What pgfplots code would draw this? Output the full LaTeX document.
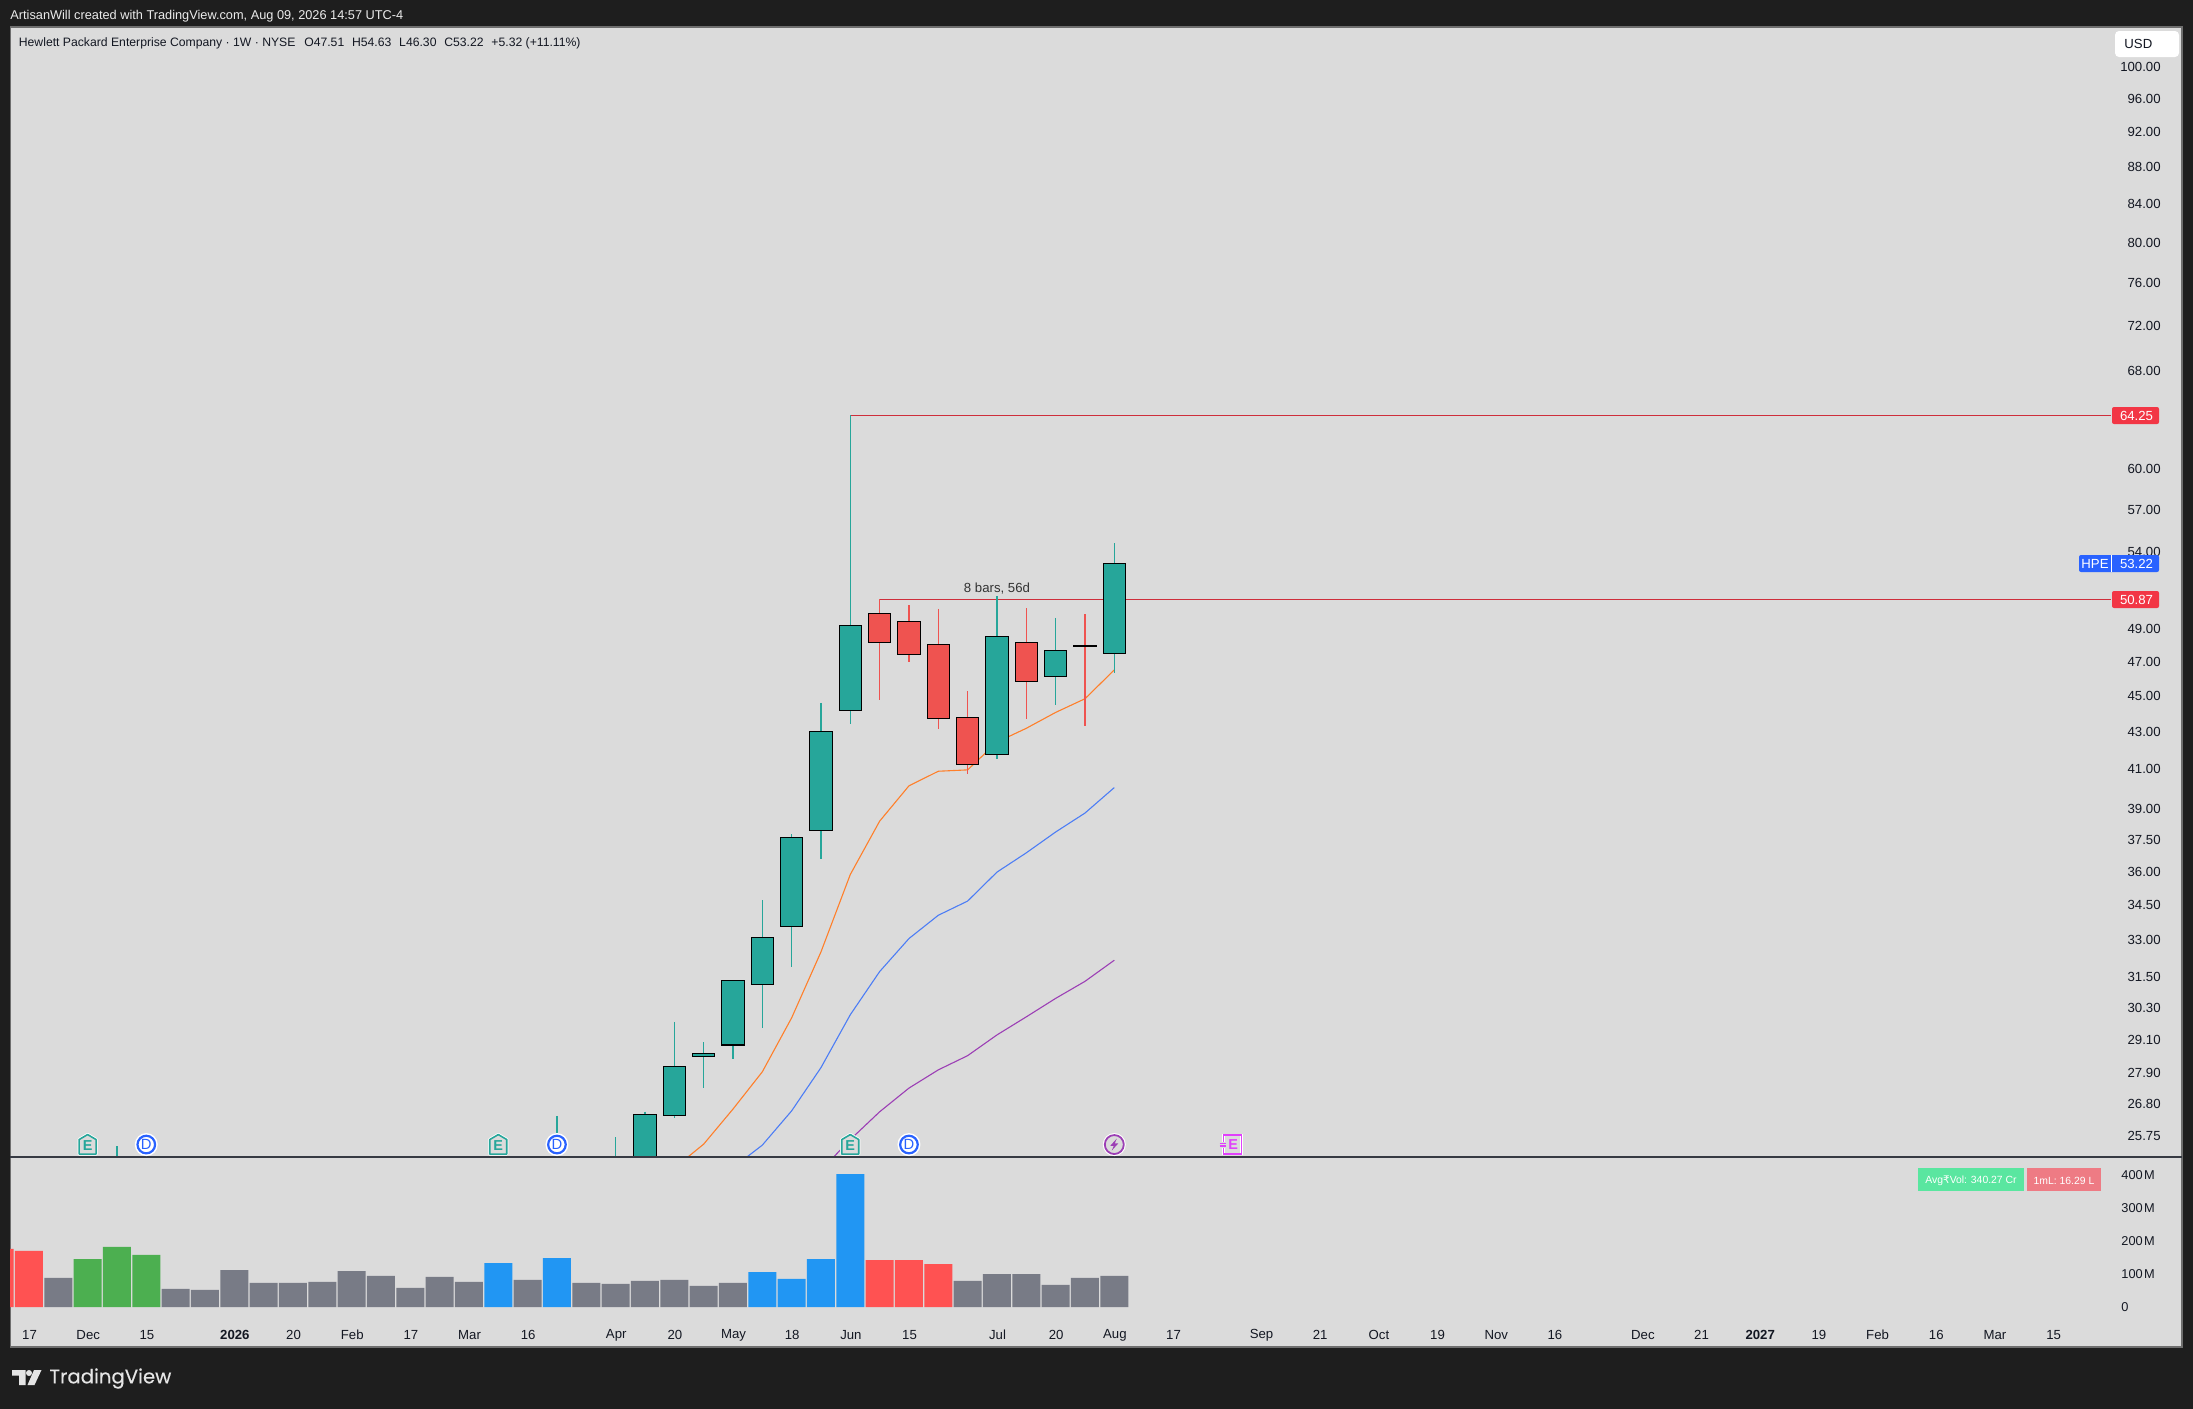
\documentclass[border=0pt]{standalone}
\usepackage{fontspec}
\usepackage{pgfplots}
\pgfplotsset{compat=1.18}
\setmainfont{Liberation Sans}
\newfontfamily\dejavu{DejaVu Sans}
\newfontfamily\tvfont[FakeBold=0.3]{Poppins}
\definecolor{bgdark}{HTML}{1E1E1E}
\definecolor{pane}{HTML}{DBDBDB}
\definecolor{up}{HTML}{26A69A}
\definecolor{dn}{HTML}{EF5350}
\definecolor{vred}{HTML}{FF5252}
\definecolor{vgreen}{HTML}{4CAF50}
\definecolor{vblue}{HTML}{2196F3}
\definecolor{vgray}{HTML}{787B86}
\definecolor{lab}{HTML}{F23645}
\definecolor{hpe}{HTML}{2962FF}
\definecolor{ma1}{HTML}{FF7F2A}
\definecolor{ma2}{HTML}{4C7DF5}
\definecolor{ma3}{HTML}{9C3FB5}
\definecolor{tick}{HTML}{131722}
\definecolor{pinkE}{HTML}{E040FB}
\definecolor{badgeA}{HTML}{5AE6A0}
\definecolor{badgeB}{HTML}{EE7B84}
\definecolor{frame}{HTML}{6E6E6E}
\newcommand\tfont{\fontsize{6.6}{8}\selectfont}
\newcommand\candle[6]{%
  \pgfmathsetmacro\xa{#2-0.38}\pgfmathsetmacro\xb{#2+0.38}%
  \addplot[#1, line width=0.55pt, forget plot] coordinates {(#2,#4)(#2,#5)};
  \addplot[draw=black, line width=0.55pt, fill=#1, line cap=rect, forget plot] coordinates {(\xa,#3)(\xb,#3)(\xb,#6)(\xa,#6)(\xa,#3)};
}
\begin{document}
\begin{tikzpicture}
\useasboundingbox (0,0) rectangle (1096.5pt,-704pt);
\fill[bgdark] (-3pt,3pt) rectangle (1100pt,-708pt);
\begin{scope}[x=0.5pt,y=-0.5pt]
\fill[pane] (10.3,27) rectangle (2182,1347);
\draw[color=frame, line width=0.55pt] (10.3,27) rectangle (2182,1347);
\end{scope}

% price pane
\begin{axis}[
  at={(4.5pt,-578.5pt)}, anchor=south west, scale only axis,
  width=1086.5pt, height=565pt,
  xmin=-28.68, xmax=45.4, ymode=log, ymin=25.07, ymax=105.16,
  axis line style={draw=none}, major tick length=0pt, minor tick length=0pt,
  xtick=\empty, log ticks with fixed point,
  ytick={100,96,92,88,84,80,76,72,68,60,57,54,49,47,45,43,41,39,37.5,36,34.5,33,31.5,30.3,29.1,27.9,26.8,25.75},
  yticklabels={100.00,96.00,92.00,88.00,84.00,80.00,76.00,72.00,68.00,60.00,57.00,54.00,49.00,47.00,45.00,43.00,41.00,39.00,37.50,36.00,34.50,33.00,31.50,30.30,29.10,27.90,26.80,25.75},
  yticklabel pos=right,
  yticklabel style={anchor=east, xshift=-10.5pt, inner sep=0pt, font=\tfont, text=tick},
]
% horizontal levels
\addplot[lab!85!black, line width=0.5pt, forget plot] coordinates {(0,64.25)(42.98,64.25)};
\addplot[lab!85!black, line width=0.5pt, forget plot] coordinates {(1,50.87)(42.98,50.87)};
% moving averages
\addplot[ma1, line width=0.55pt, forget plot] coordinates {(-6,24.72)(-5,25.48)(-4,26.64)(-3,27.93)(-2,29.91)(-1,32.52)(0,35.88)(1,38.39)(2,40.15)(3,40.90)(4,40.97)(5,42.44)(6,43.19)(7,44.07)(8,44.84)(9,46.51)};
\addplot[ma2, line width=0.55pt, forget plot] coordinates {(-4,24.73)(-3,25.45)(-2,26.58)(-1,28.08)(0,30.03)(1,31.72)(2,33.08)(3,34.07)(4,34.69)(5,35.99)(6,36.88)(7,37.87)(8,38.79)(9,40.06)};
\addplot[ma3, line width=0.55pt, forget plot] coordinates {(-1,24.65)(0,25.63)(1,26.55)(2,27.36)(3,28.00)(4,28.51)(5,29.27)(6,29.95)(7,30.66)(8,31.33)(9,32.18)};
% candles: colour, index, open, high, low, close
\candle{up}{-25}{23.0}{25.42}{22.5}{24.0}
\candle{up}{-10}{23.0}{26.41}{22.5}{24.0}
\candle{up}{-8}{23.0}{25.70}{22.5}{24.0}
\candle{up}{-7}{24.6}{26.56}{24.3}{26.45}
\candle{up}{-6}{26.42}{29.76}{26.35}{28.13}
\candle{up}{-5}{28.47}{29.00}{27.36}{28.59}
\candle{up}{-4}{28.90}{31.36}{28.38}{31.36}
\candle{up}{-3}{31.19}{34.73}{29.53}{33.13}
\candle{up}{-2}{33.58}{37.77}{31.91}{37.61}
\candle{up}{-1}{37.93}{44.60}{36.59}{43.03}
\candle{up}{0}{44.16}{64.25}{43.41}{49.22}
\candle{dn}{1}{49.97}{50.87}{44.77}{48.14}
\candle{dn}{2}{49.47}{50.50}{46.98}{47.42}
\candle{dn}{3}{48.05}{50.25}{43.14}{43.72}
\candle{dn}{4}{43.80}{45.28}{40.78}{41.26}
\candle{up}{5}{41.79}{51.08}{41.54}{48.54}
\candle{dn}{6}{48.17}{50.31}{43.70}{45.82}
\candle{up}{7}{46.11}{49.68}{44.48}{47.68}
\candle{dn}{8}{47.96}{49.93}{43.32}{47.91}
\candle{up}{9}{47.51}{54.63}{46.30}{53.22}
\node[font=\tfont, text=black!80] at (axis cs:5,51.55) {8 bars, 56d};
\coordinate (eA) at (axis cs:-26,25.47);
\coordinate (dA) at (axis cs:-24,25.47);
\coordinate (eB) at (axis cs:-12,25.47);
\coordinate (dB) at (axis cs:-10,25.47);
\coordinate (eC) at (axis cs:0,25.47);
\coordinate (dC) at (axis cs:2,25.47);
\coordinate (zz) at (axis cs:9,25.47);
\coordinate (eD) at (axis cs:13,25.47);
\end{axis}

% volume pane
\begin{axis}[
  at={(4.5pt,-673.5pt)}, anchor=south west, scale only axis,
  width=1086.5pt, height=95pt,
  xmin=-28.68, xmax=45.4, ymin=-121.2, ymax=454.5,
  axis line style={draw=none}, major tick length=0pt,
  ytick={0,100,200,300,400},
  yticklabels={0,100\hspace{0.6pt}M,200\hspace{0.6pt}M,300\hspace{0.6pt}M,400\hspace{0.6pt}M},
  yticklabel pos=right,
  yticklabel style={anchor=west, xshift=-30.5pt, inner sep=0pt, font=\fontsize{6.4}{8}\selectfont, text=tick},
  xtick={-28,-26,-24,-21,-19,-17,-15,-13,-11,-8,-6,-4,-2,0,2,5,7,9,11,14,16,18,20,22,24,27,29,31,33,35,37,39,41},
  xticklabels={17,Dec,15,\textbf{2026},20,Feb,17,Mar,16,Apr,20,May,18,Jun,15,Jul,20,Aug,17,Sep,21,Oct,19,Nov,16,Dec,21,\textbf{2027},19,Feb,16,Mar,15},
  xticklabel style={anchor=center, yshift=6pt, xshift=0.3pt, inner sep=0pt, font=\tfont, text=tick},
]
\addplot[ybar, bar shift=0pt, bar width=14pt, fill=vgray, draw=none, forget plot] coordinates {(-27,88)(-23,55)(-22,52)(-21,112)(-20,73)(-19,73)(-18,76)(-17,109)(-16,94)(-15,58)(-14,91)(-13,76)(-11,82)(-9,73)(-8,70)(-7,79)(-6,82)(-5,64)(-4,73)(4,79)(5,100)(6,100)(7,67)(8,88)(9,94)};
\addplot[ybar, bar shift=0pt, bar width=14pt, fill=vred, draw=none, forget plot] coordinates {(-29,176)(-28,170)(1,142)(2,142)(3,130)};
\addplot[ybar, bar shift=0pt, bar width=14pt, fill=vgreen, draw=none, forget plot] coordinates {(-26,145)(-25,182)(-24,158)};
\addplot[ybar, bar shift=0pt, bar width=14pt, fill=vblue, draw=none, forget plot] coordinates {(-12,133)(-10,148)(-3,106)(-2,85)(-1,145)(0,403)};
\end{axis}

% pane separator, header, labels
\begin{scope}[x=0.5pt,y=-0.5pt]
\fill[bgdark] (0,27) rectangle (9.9,1347);
\draw[color=tick!85!white, line width=0.7pt] (10.3,1157) -- (2182,1157);
\node[anchor=west, inner sep=0, text=white!92!black, font=\fontsize{6.38}{8}\selectfont] at (10,16) {ArtisanWill created with TradingView.com, Aug 09, 2026 14:57 UTC-4};
\node[anchor=west, inner sep=0, text=tick, font=\fontsize{6.1}{8}\selectfont] at (18.5,43) {Hewlett Packard Enterprise Company · 1W · NYSE\hspace{4.4pt}O47.51\hspace{3.9pt}H54.63\hspace{3.9pt}L46.30\hspace{3.9pt}C53.22\hspace{3.9pt}+5.32 (+11.11\%)};
% currency box
\fill[white, rounded corners=2pt] (2115,31) rectangle (2179,57);
\node[anchor=west, inner sep=0, text=tick, font=\tfont] at (2124,44) {USD};
% price labels
\fill[lab, rounded corners=1pt] (2112,407) rectangle (2159,424);
\node[inner sep=0, text=white, font=\tfont] at (2136.5,415.5) {64.25};
\fill[lab, rounded corners=1pt] (2112,591) rectangle (2159,608);
\node[inner sep=0, text=white, font=\tfont] at (2136.5,599.5) {50.87};
\fill[hpe, rounded corners=1pt] (2079,555) rectangle (2159,572);
\draw[white, line width=0.4pt] (2111,555) -- (2111,572);
\node[inner sep=0, text=white, font=\tfont] at (2095,563.5) {HPE};
\node[inner sep=0, text=white, font=\tfont] at (2136.5,563.5) {53.22};
% volume badges
\fill[badgeA] (1918,1168) rectangle (2024,1191);
\node[inner sep=0, text=white, font=\fontsize{5.2}{6}\selectfont] at (1971,1180.5) {Avg{\dejavu ₹}Vol: 340.27 Cr};
\fill[badgeB] (2027,1168) rectangle (2101,1191);
\node[inner sep=0, text=white, font=\fontsize{5.2}{6}\selectfont] at (2064,1180.5) {1mL: 16.29 L};
% footer
\fill[white!90!black] (12,1370) -- (25.5,1370) -- (25.5,1385) -- (19,1385) -- (19,1375.5) -- (12,1375.5) -- cycle;
\fill[white!90!black] (29,1373) circle (3);
\fill[white!90!black] (34,1370) -- (41.5,1370) -- (34.5,1385) -- (27.5,1385) -- cycle;
\node[anchor=west, inner sep=0, text=white!90!black, font=\fontsize{9.85}{12}\tvfont] at (49,1378.5) {TradingView};
\end{scope}
% event icons
\foreach \c in {eA,eB,eC}{
\begin{scope}[shift={(\c)},x=0.5pt,y=-0.5pt]
\draw[white, line width=1.6pt, line join=round] (-8.5,9.5) -- (8.5,9.5) -- (8.5,-5) -- (0,-10) -- (-8.5,-5) -- cycle;
\draw[up, line width=0.8pt, fill=pane, line join=round] (-8.5,9.5) -- (8.5,9.5) -- (8.5,-5) -- (0,-10) -- (-8.5,-5) -- cycle;
\node[inner sep=0, text=up, font=\fontsize{7.2}{8}\selectfont\bfseries] at (0,1) {E};
\end{scope}}
\foreach \c in {dA,dB,dC}{
\begin{scope}[shift={(\c)},x=0.5pt,y=-0.5pt]
\fill[white] (0,0) circle (11.5);
\draw[hpe, line width=1.1pt, fill=white] (0,0) circle (8.8);
\node[inner sep=0, text=hpe, font=\fontsize{7.4}{8}\selectfont] at (0,0) {D};
\end{scope}}
\begin{scope}[shift={(zz)},x=0.5pt,y=-0.5pt]
\fill[white] (0,0) circle (11.5);
\draw[ma3, line width=0.9pt, fill=pane] (0,0) circle (9.5);
\fill[ma3] (2.5,-6) -- (-4,1.2) -- (-0.5,1.2) -- (-2.5,6) -- (4,-1.2) -- (0.5,-1.2) -- cycle;
\end{scope}
\begin{scope}[shift={(eD)},x=0.5pt,y=-0.5pt]
\draw[white, line width=1.4pt] (-8,-3) -- (-8,-9.5) -- (10,-9.5) -- (10,9.5) -- (-8,9.5) -- (-8,3);
\draw[pinkE, line width=0.8pt] (-8,-3) -- (-8,-9.5) -- (10,-9.5) -- (10,9.5) -- (-8,9.5) -- (-8,3);
\draw[pinkE, line width=0.6pt] (-12,-1) -- (-6,-1) (-12,1.5) -- (-6,1.5);
\node[inner sep=0, text=pinkE, font=\fontsize{7.2}{8}\selectfont\bfseries] at (1.5,0) {E};
\end{scope}
\end{tikzpicture}
\end{document}
